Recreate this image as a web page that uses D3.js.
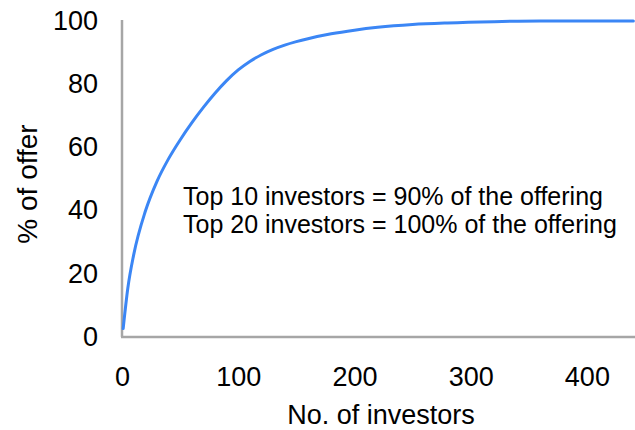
<!DOCTYPE html>
<html>
<head>
<meta charset="utf-8">
<script src="https://cdn.jsdelivr.net/npm/d3@7"></script>
<style>
  html, body { margin: 0; padding: 0; background: #fff; }
  svg { display: block; font-family: "Liberation Sans", Arial, sans-serif; }
</style>
</head>
<body>
<svg id="chart" width="635" height="430"></svg>
<script>
// Cumulative share of the offering taken by the largest investors
const investors = [1, 5, 10, 20, 30, 40, 50, 60, 70, 80, 90, 100, 110, 120, 130, 140, 150, 160, 180, 200, 220, 250, 280, 320, 360, 440];
const pctOffer  = [2.5, 15.3, 25.8, 39.6, 49.1, 56.3, 62.3, 67.7, 72.6, 77.1, 81.1, 84.5, 87.2, 89.3, 91.0, 92.35, 93.45, 94.4, 95.95, 97.1, 98.0, 98.9, 99.4, 99.8, 100, 100];

const xTicks = [0, 100, 200, 300, 400];
const yTicks = [0, 20, 40, 60, 80, 100];

const notes = [
  "Top 10 investors = 90% of the offering",
  "Top 20 investors = 100% of the offering"
];

const svg = d3.select("#chart");
const axisColor = "#a6a6a6";

const x = d3.scaleLinear().domain([0, 450]).range([122, 645]);
const y = d3.scaleLinear().domain([0, 100]).range([336.5, 21]);

// Y axis
const gy = svg.append("g")
  .attr("transform", "translate(122,0)")
  .call(d3.axisLeft(y).tickValues(yTicks).tickSize(0).tickPadding(24));
gy.select(".domain").attr("stroke", axisColor).attr("stroke-width", 2.5)
  .attr("d", "M0,20V337");
gy.selectAll("text").attr("font-size", 27).attr("fill", "#000")
  .attr("font-family", "Liberation Sans, Arial, sans-serif");

// X axis
const gx = svg.append("g")
  .attr("transform", "translate(0,337)")
  .call(d3.axisBottom(x).tickValues(xTicks).tickSize(0).tickPadding(30));
gx.select(".domain").attr("stroke", axisColor).attr("stroke-width", 2.5)
  .attr("d", "M121,0H640");
gx.selectAll("text").attr("font-size", 27).attr("fill", "#000")
  .attr("font-family", "Liberation Sans, Arial, sans-serif");

// Axis titles
svg.append("text")
  .attr("x", 381).attr("y", 424)
  .attr("text-anchor", "middle")
  .attr("font-size", 27)
  .text("No. of investors");

svg.append("text")
  .attr("transform", "translate(37,184) rotate(-90)")
  .attr("text-anchor", "middle")
  .attr("font-size", 28)
  .text("% of offer");

// Concentration curve
const pts = investors.map((d, i) => [d, pctOffer[i]]);
svg.append("path")
  .datum(pts)
  .attr("fill", "none")
  .attr("stroke", "#3b86f5")
  .attr("stroke-width", 3)
  .attr("stroke-linecap", "round")
  .attr("d", d3.line().x(d => x(d[0])).y(d => y(d[1])).curve(d3.curveMonotoneX));

// Annotation
svg.append("g").selectAll("text")
  .data(notes)
  .join("text")
  .attr("x", 183)
  .attr("y", (d, i) => 205 + i * 28)
  .attr("font-size", 25)
  .attr("fill", "#000")
  .text(d => d);
</script>
</body>
</html>
